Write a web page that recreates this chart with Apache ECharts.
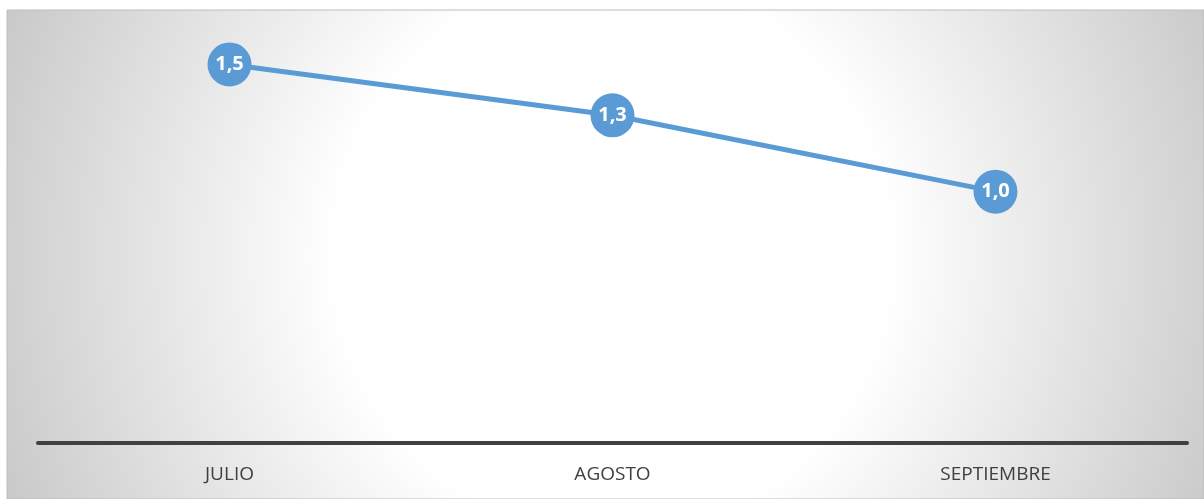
<!DOCTYPE html>
<html>
<head>
<meta charset="utf-8">
<script src="https://cdn.jsdelivr.net/npm/echarts@6/dist/echarts.min.js"></script>
<style>
html,body{margin:0;padding:0;background:#fff;}
#c{width:1204px;height:499px;}
</style>
</head>
<body>
<div id="c"></div>
<script>
const categories = ['JULIO', 'AGOSTO', 'SEPTIEMBRE'];
const values = [1.5, 1.3, 1.0];

const chart = echarts.init(document.getElementById('c'));
chart.setOption({
  animation: false,
  backgroundColor: '#ffffff',
  graphic: [{
    type: 'rect',
    z: -10,
    silent: true,
    shape: { x: 7, y: 10, width: 1197, height: 489 },
    style: {
      fill: new echarts.graphic.RadialGradient(612, 255, 660, [
        { offset: 0, color: '#ffffff' },
        { offset: 0.42, color: '#ffffff' },
        { offset: 1, color: '#c8c8c8' }
      ], true),
      stroke: '#bdbdbd',
      lineWidth: 1
    }
  }],
  grid: { left: 38, right: 17, top: 39, bottom: 53, containLabel: false },
  xAxis: {
    type: 'category',
    data: categories,
    boundaryGap: true,
    offset: -3,
    axisLine: { show: true, lineStyle: { color: '#404040', width: 4 } },
    axisTick: { show: false },
    axisLabel: {
      color: '#404040',
      fontFamily: 'Open Sans',
      fontSize: 19,
      margin: 22
    },
    splitLine: { show: false }
  },
  yAxis: {
    type: 'value',
    min: 0,
    max: 1.6,
    show: false,
    splitLine: { show: false }
  },
  series: [{
    type: 'line',
    data: values,
    symbol: 'circle',
    symbolSize: 44,
    lineStyle: { color: '#5b9bd5', width: 5 },
    itemStyle: { color: '#5b9bd5' },
    label: {
      show: true,
      position: 'inside',
      color: '#ffffff',
      fontFamily: 'Open Sans',
      fontWeight: 'bold',
      fontSize: 20,
      formatter: function (p) { return p.value.toFixed(1).replace('.', ','); }
    }
  }]
});
</script>
</body>
</html>
